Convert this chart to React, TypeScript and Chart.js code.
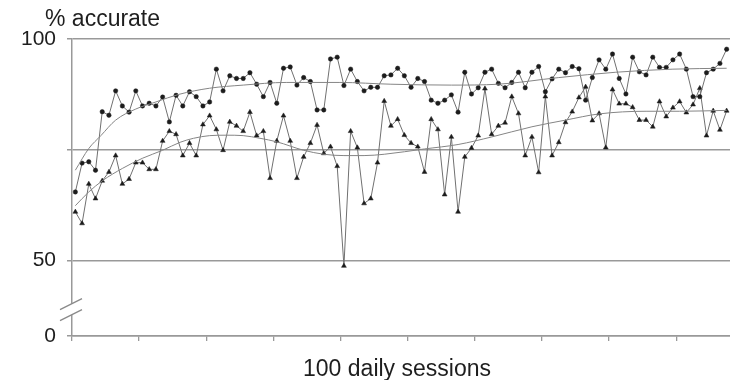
import React, { useEffect, useRef } from "react";
import { Chart, registerables } from "chart.js";

Chart.register(...registerables);

// Upper series (circles), one value per daily session
const circleSeries = [
  65.5, 72, 72.3, 70.4, 83.6, 82.8, 88.3, 84.9, 83.5, 88.3,
  84.9, 85.5, 84.9, 86.9, 81.3, 87.3, 84.9, 88.1, 87, 84.9,
  85.8, 93.2, 88.3, 91.7, 91.1, 91.1, 92.4, 89.8, 87, 90.2,
  85.5, 93.4, 93.7, 89.6, 91.3, 90.4, 84, 84, 95.5, 95.9,
  89.5, 93.2, 90.4, 88.3, 89.1, 89.1, 91.7, 91.9, 93.4, 91.7,
  89.1, 91.1, 90.4, 86.2, 85.5, 86.2, 87.4, 83.5, 92.5, 87.6,
  89, 92.5, 93.2, 90, 89, 90.2, 92.5, 89, 92.5, 93.8,
  88.1, 91, 93.2, 92.4, 93.8, 93.3, 86.2, 91.3, 95.3, 93.2,
  96.6, 91.1, 87.6, 95.9, 92.6, 91.9, 95.9, 93.6, 93.6, 95.3,
  96.6, 93.2, 87, 87, 92.4, 93.2, 94.5, 97.7,
];

// Lower series (triangles)
const triangleSeries = [
  61, 58.4, 67.3, 64, 68, 70, 73.7, 67.3, 68.4, 72.1,
  72.1, 70.6, 70.6, 77, 79.2, 78.5, 73.7, 76.5, 73.7, 80.7,
  82.7, 79.6, 74.9, 81.3, 80.4, 79.2, 83.5, 78.2, 79.2, 68.6,
  77, 82.7, 77, 68.6, 73.4, 76.5, 80.6, 74.2, 75.7, 71.3,
  48.8, 79.2, 75.5, 62.9, 64, 72.1, 86, 80.4, 81.9, 78.3,
  76.5, 75.7, 70, 81.9, 79.6, 64.9, 77.9, 61, 73.4, 75.4,
  78.2, 88.8, 78.5, 80.4, 81.1, 87, 83.2, 73.7, 77.9, 69.9,
  87, 73.7, 76.7, 81.2, 83.6, 86.8, 89.2, 81.6, 83.2, 75.5,
  88.6, 85.4, 85.4, 84.6, 81.7, 81.7, 80.2, 85.9, 82.5, 84.5,
  85.9, 83.4, 85.2, 88.9, 78.2, 83.8, 79.5, 83.8,
];

// Trend curves (session index, % accurate)
const circleTrendX = [0, 2, 3.8, 6, 9, 12, 15.4, 20, 25, 31.4, 39.4, 47, 56, 63, 72, 80.5, 89, 97];
const circleTrendY = [70.4, 75.3, 78.2, 81.7, 84.2, 85.8, 87.5, 88.9, 89.6, 90.2, 90.2, 89.8, 89.6, 89.8, 91.3, 92.5, 93.2, 93.4];
const triangleTrendX = [0, 2, 4, 7, 10, 13, 15.6, 17.6, 20, 22.5, 25, 27.5, 30, 34, 37, 40, 43, 46, 52, 57, 62, 68, 73, 78, 85, 90, 97];
const triangleTrendY = [62.4, 65.5, 68, 70.8, 73.1, 74.9, 76.7, 77.6, 78.2, 78.3, 78.2, 77.6, 76.8, 74.9, 74, 73.7, 73.7, 74, 75.2, 76.2, 77.9, 80.2, 81.7, 83.1, 83.7, 83.7, 83.9];

// Axis
const sessionCount = 98;
const xTickEvery = 10;
const yTickValues = [50, 75, 100];
const yTickLabels = ["50", "", "100"];
const yZeroLabel = "0";
const yBrokenBottom = 33; // displayed position of the "0" label below the axis break
const yTitle = "% accurate";
const xTitle = "100 daily sessions";

const FONT = "'Liberation Sans', Arial, sans-serif";
const GRID = "#999999";
const LINE = "#707070";
const MARK = "#1c1c1c";
const TEXT = "#1e1e1e";

const decorPlugin = {
  id: "decor",
  afterDraw(chart: any) {
    const { ctx, chartArea, scales } = chart;
    const y = scales.y;
    const x0 = chartArea.left;
    const p50 = y.getPixelForValue(50);
    const yc = p50 + 0.65 * (chartArea.bottom - p50);
    ctx.save();
    // axis break
    ctx.fillStyle = "#ffffff";
    ctx.beginPath();
    ctx.moveTo(x0 - 12, yc);
    ctx.lineTo(x0 + 10, yc - 11);
    ctx.lineTo(x0 + 10, yc);
    ctx.lineTo(x0 - 12, yc + 11);
    ctx.closePath();
    ctx.fill();
    ctx.strokeStyle = "#8a8a8a";
    ctx.lineWidth = 1.3;
    ctx.beginPath();
    ctx.moveTo(x0 - 12, yc);
    ctx.lineTo(x0 + 10, yc - 11);
    ctx.moveTo(x0 - 12, yc + 11);
    ctx.lineTo(x0 + 10, yc);
    ctx.stroke();
    // titles
    ctx.fillStyle = TEXT;
    ctx.font = `23px ${FONT}`;
    ctx.textBaseline = "alphabetic";
    ctx.textAlign = "left";
    ctx.fillText(yTitle, 45, 26);
    ctx.textAlign = "center";
    ctx.fillText(xTitle, 397, 376);
    ctx.restore();
  },
};

export default function App() {
  const ref = useRef<HTMLCanvasElement | null>(null);
  useEffect(() => {
    if (!ref.current) return;
    const circlePts = circleSeries.map((v, i) => ({ x: i, y: v }));
    const trianglePts = triangleSeries.map((v, i) => ({ x: i, y: v }));
    const circleTrend = circleTrendX.map((x, i) => ({ x, y: circleTrendY[i] }));
    const triangleTrend = triangleTrendX.map((x, i) => ({ x, y: triangleTrendY[i] }));
    const chart = new Chart(ref.current, {
      type: "line",
      data: {
        datasets: [
          {
            data: circleTrend,
            borderColor: "#858585",
            borderWidth: 1,
            pointRadius: 0,
            cubicInterpolationMode: "monotone",
            fill: false,
          },
          {
            data: triangleTrend,
            borderColor: "#858585",
            borderWidth: 1,
            pointRadius: 0,
            cubicInterpolationMode: "monotone",
            fill: false,
          },
          {
            data: circlePts,
            borderColor: LINE,
            borderWidth: 1,
            pointStyle: "circle",
            pointRadius: 2.2,
            pointBackgroundColor: MARK,
            pointBorderColor: MARK,
            pointBorderWidth: 0.5,
            tension: 0,
            fill: false,
          },
          {
            data: trianglePts,
            borderColor: LINE,
            borderWidth: 1,
            pointStyle: "triangle",
            pointRadius: 2.8,
            pointBackgroundColor: MARK,
            pointBorderColor: MARK,
            pointBorderWidth: 0.5,
            tension: 0,
            fill: false,
          },
        ],
      },
      options: {
        responsive: false,
        animation: false,
        devicePixelRatio: 1,
        layout: { autoPadding: false, padding: { left: 0, right: 0, top: 39, bottom: 0 } },
        plugins: {
          legend: { display: false },
          tooltip: { enabled: false },
          title: { display: false },
        },
        scales: {
          x: {
            type: "linear",
            min: -0.5,
            max: sessionCount - 0.5,
            afterBuildTicks: (scale: any) => {
              const t = [];
              for (let v = -0.5; v < sessionCount - 0.5; v += xTickEvery) t.push({ value: v });
              scale.ticks = t;
            },
            afterFit: (scale: any) => {
              scale.height = 44;
              scale.paddingLeft = 0;
              scale.paddingRight = 0;
            },
            ticks: { display: false },
            grid: {
              drawOnChartArea: false,
              drawTicks: true,
              tickLength: 5,
              color: GRID,
              lineWidth: 1.3,
            },
            border: { display: true, color: GRID, width: 1.5 },
          },
          y: {
            type: "linear",
            min: yBrokenBottom,
            max: 100,
            afterBuildTicks: (scale: any) => {
              scale.ticks = [{ value: yBrokenBottom }, ...yTickValues.map((v) => ({ value: v }))];
            },
            afterFit: (scale: any) => {
              scale.width = 72;
              scale.paddingTop = 0;
              scale.paddingBottom = 0;
            },
            ticks: {
              padding: 11,
              color: TEXT,
              font: { family: FONT, size: 21 },
              callback: (value: any) => {
                if (value === yBrokenBottom) return yZeroLabel;
                const idx = yTickValues.indexOf(value);
                return idx >= 0 ? yTickLabels[idx] : "";
              },
            },
            grid: {
              drawOnChartArea: true,
              drawTicks: true,
              tickLength: 5,
              color: GRID,
              lineWidth: 1.5,
            },
            border: { display: true, color: GRID, width: 1.5 },
          },
        },
      },
      plugins: [decorPlugin],
    });
    return () => chart.destroy();
  }, []);

  return (
    <div style={{ position: "absolute", left: 0, top: 0, width: 730, height: 380, background: "#fff" }}>
      <canvas ref={ref} width={730} height={380} style={{ display: "block", width: 730, height: 380 }} />
    </div>
  );
}
